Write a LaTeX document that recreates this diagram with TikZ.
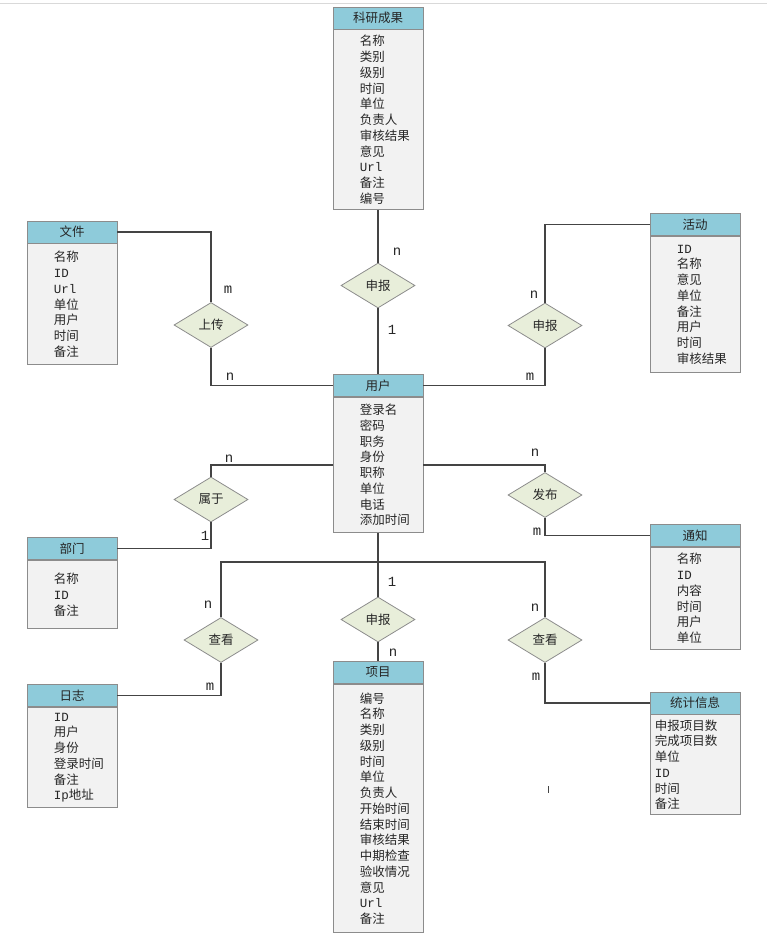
\documentclass[tikz,border=0pt]{standalone}
\usepackage{fontspec}
\setmainfont{Noto Sans CJK SC}
\newfontfamily\latfont{Liberation Mono}
\usetikzlibrary{shapes.geometric, positioning}

\definecolor{headblue}{HTML}{8ECBDA}
\definecolor{bodygray}{HTML}{F2F2F2}
\definecolor{boxgray}{HTML}{8C8C8C}
\definecolor{relgreen}{HTML}{E8EEDA}
\definecolor{linegray}{HTML}{444444}

\begin{document}
\begin{tikzpicture}[
    x=1pt, y=-1pt,
    conn/.style={draw=linegray, line width=1.3pt},
    enthead/.style={draw=boxgray, fill=headblue, line width=0.8pt, minimum width=90pt,
        minimum height=22pt, inner sep=0pt, text=black!85, font=\fontsize{12.5}{14}\selectfont},
    entbody/.style={draw=boxgray, fill=bodygray, line width=0.8pt, minimum width=90pt,
        inner sep=0pt},
    enttext/.style={anchor=west, align=left, inner sep=0pt, text=black!85,
        font=\fontsize{12.5}{15.75}\selectfont},
    rel/.style={diamond, draw=boxgray, fill=relgreen, line width=0.8pt, minimum width=74pt,
        minimum height=45pt, inner sep=0pt, text=black!85, font=\fontsize{12.5}{14}\selectfont},
    card/.style={inner sep=0pt, text=black!85, font=\latfont\fontsize{14}{14}\selectfont}
]

    \useasboundingbox (0,0) rectangle (767,939);
    \draw[black!15] (0,3) -- (767,3);

    % entities
    \node[enthead] (kycg-h) at (378,18) {科研成果};
    \node[entbody, minimum height=180pt, below=0pt of kycg-h] (kycg-b) {};
    \node[enttext] (kycg-t) at ([xshift=27pt]kycg-b.west)
        {名称\\类别\\级别\\时间\\单位\\负责人\\审核结果\\意见\\{\latfont Url}\\备注\\编号};

    \node[enthead] (wj-h) at (72,232) {文件};
    \node[entbody, minimum height=121pt, below=0pt of wj-h] (wj-b) {};
    \node[enttext] (wj-t) at ([xshift=27pt]wj-b.west)
        {名称\\{\latfont ID}\\{\latfont Url}\\单位\\用户\\时间\\备注};

    \node[enthead] (hd-h) at (695,224.5) {活动};
    \node[entbody, minimum height=136.5pt, below=0pt of hd-h] (hd-b) {};
    \node[enttext] (hd-t) at ([xshift=27pt]hd-b.west)
        {{\latfont ID}\\名称\\意见\\单位\\备注\\用户\\时间\\审核结果};

    \node[enthead] (yh-h) at (378,385.5) {用户};
    \node[entbody, minimum height=135.5pt, below=0pt of yh-h] (yh-b) {};
    \node[enttext] (yh-t) at ([xshift=27pt]yh-b.west)
        {登录名\\密码\\职务\\身份\\职称\\单位\\电话\\添加时间};

    \node[enthead] (bm-h) at (72,548.5) {部门};
    \node[entbody, minimum height=68.5pt, below=0pt of bm-h] (bm-b) {};
    \node[enttext] (bm-t) at ([xshift=27pt]bm-b.west)
        {名称\\{\latfont ID}\\备注};

    \node[enthead] (tz-h) at (695,535.5) {通知};
    \node[entbody, minimum height=102.5pt, below=0pt of tz-h] (tz-b) {};
    \node[enttext] (tz-t) at ([xshift=27pt]tz-b.west)
        {名称\\{\latfont ID}\\内容\\时间\\用户\\单位};

    \node[enthead] (rz-h) at (72,695.5) {日志};
    \node[entbody, minimum height=100.5pt, below=0pt of rz-h] (rz-b) {};
    \node[enttext] (rz-t) at ([xshift=27pt]rz-b.west)
        {{\latfont ID}\\用户\\身份\\登录时间\\备注\\{\latfont Ip}地址};

    \node[enthead] (tj-h) at (695,703) {统计信息};
    \node[entbody, minimum height=100pt, below=0pt of tj-h] (tj-b) {};
    \node[enttext] (tj-t) at ([xshift=5pt]tj-b.west)
        {申报项目数\\完成项目数\\单位\\{\latfont ID}\\时间\\备注};

    \node[enthead] (xm-h) at (378,672.5) {项目};
    \node[entbody, minimum height=248.5pt, below=0pt of xm-h] (xm-b) {};
    \node[enttext] (xm-t) at ([xshift=27pt]xm-b.west)
        {编号\\名称\\类别\\级别\\时间\\单位\\负责人\\开始时间\\结束时间\\审核结果\\中期检查\\验收情况\\意见\\{\latfont Url}\\备注};

    % relationships
    \node[rel] (sb1) at (378,285.5) {申报};
    \node[rel] (sc)  at (211,325)   {上传};
    \node[rel] (sb2) at (545,325.5) {申报};
    \node[rel] (sy)  at (211,499.5) {属于};
    \node[rel] (fb)  at (545,495)   {发布};
    \node[rel] (sb3) at (378,619.5) {申报};
    \node[rel] (ck1) at (221,640)   {查看};
    \node[rel] (ck2) at (545,640)   {查看};

    % connectors
    \coordinate (jn) at (378,562);
    \draw[conn] (kycg-b.south) -- (sb1.north);
    \draw[conn] (sb1.south) -- (yh-h.north);
    \draw[conn] (wj-h.east) -| (sc.north);
    \draw[conn] (sc.south) |- (yh-h.west);
    \draw[conn] (hd-h.west) -| (sb2.north);
    \draw[conn] (sb2.south) |- (yh-h.east);
    \draw[conn] (sy.north) |- (yh-b.west);
    \draw[conn] (sy.south) |- (bm-h.east);
    \draw[conn] (fb.north) |- (yh-b.east);
    \draw[conn] (fb.south) |- (tz-h.west);
    \draw[conn] (yh-b.south) -- (jn);
    \draw[conn] (ck1.north) |- (jn) -| (ck2.north);
    \draw[conn] (jn) -- (sb3.north);
    \draw[conn] (sb3.south) -- (xm-h.north);
    \draw[conn] (ck1.south) |- (rz-h.east);
    \draw[conn] (ck2.south) |- (tj-h.west);

    % cardinalities
    \node[card] (c1)  at (397,252) {n};
    \node[card] (c2)  at (392,330) {1};
    \node[card] (c3)  at (228,290) {m};
    \node[card] (c4)  at (230,377) {n};
    \node[card] (c5)  at (534,295) {n};
    \node[card] (c6)  at (530,377) {m};
    \node[card] (c7)  at (229,459) {n};
    \node[card] (c8)  at (205,536) {1};
    \node[card] (c9)  at (535,453) {n};
    \node[card] (c10) at (537,532) {m};
    \node[card] (c11) at (208,605) {n};
    \node[card] (c12) at (392,582) {1};
    \node[card] (c13) at (535,608) {n};
    \node[card] (c14) at (393,653) {n};
    \node[card] (c15) at (210,687) {m};
    \node[card] (c16) at (536,677) {m};

    \draw[linegray, line width=1pt] (548,786) -- (548,793);

\end{tikzpicture}
\end{document}
